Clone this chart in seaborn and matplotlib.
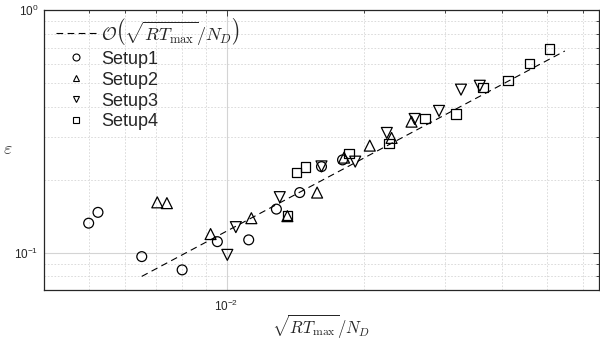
import pandas as pd
import matplotlib.pyplot as plt
import seaborn as sns
from matplotlib.lines import Line2D
from matplotlib.ticker import LogLocator, NullFormatter

sns.set_style("white")
plt.rcParams['font.family'] = ['Liberation Sans', 'DejaVu Sans']
plt.rcParams['mathtext.fontset'] = 'cm'

# values (x = sqrt(RT_max)/N_D, y = epsilon)
setup1_x = [0.00500, 0.00524, 0.00653, 0.00800, 0.00955, 0.01118, 0.01285, 0.01445, 0.01612, 0.01792]
setup1_y = [0.1325, 0.1468, 0.0965, 0.0851, 0.1112, 0.1131, 0.1514, 0.1771, 0.2265, 0.2414]

setup2_x = [0.00706, 0.00741, 0.00923, 0.01133, 0.01358, 0.01577, 0.01806, 0.02055, 0.02293, 0.02535]
setup2_y = [0.1614, 0.1602, 0.1195, 0.1389, 0.1416, 0.1771, 0.2467, 0.2764, 0.2973, 0.3469]

setup3_x = [0.01004, 0.01048, 0.01307, 0.01612, 0.01910, 0.02239, 0.02575, 0.02911, 0.03251, 0.03573]
setup3_y = [0.0981, 0.1276, 0.1696, 0.2270, 0.2375, 0.3117, 0.3559, 0.3841, 0.4699, 0.4876]

setup4_x = [0.01358, 0.01422, 0.01488, 0.01852, 0.02264, 0.02714, 0.03171, 0.03631, 0.04119, 0.04595, 0.05081]
setup4_y = [0.1423, 0.2140, 0.2259, 0.2572, 0.2828, 0.3587, 0.3733, 0.4806, 0.5136, 0.6036, 0.6910]

# reference slope line O(sqrt(RT_max)/N_D), end points
line_x = [0.00653, 0.0548]
line_y = [0.0800, 0.678]

setups = ['Setup1', 'Setup2', 'Setup3', 'Setup4']
marker_map = {'Setup1': 'o', 'Setup2': '^', 'Setup3': 'v', 'Setup4': 's'}
size_map = {'Setup1': 50, 'Setup2': 62, 'Setup3': 62, 'Setup4': 44}

df = pd.concat([
    pd.DataFrame({'x': setup1_x, 'y': setup1_y, 'setup': 'Setup1'}),
    pd.DataFrame({'x': setup2_x, 'y': setup2_y, 'setup': 'Setup2'}),
    pd.DataFrame({'x': setup3_x, 'y': setup3_y, 'setup': 'Setup3'}),
    pd.DataFrame({'x': setup4_x, 'y': setup4_y, 'setup': 'Setup4'}),
], ignore_index=True)

fig, ax = plt.subplots(figsize=(6, 3.4), dpi=100)
fig.subplots_adjust(left=0.0738, right=0.998, bottom=0.147, top=0.9706)

sns.lineplot(x=line_x, y=line_y, ax=ax, color='black', lw=0.8,
             linestyle=(0, (6, 4)), zorder=2)
sns.scatterplot(data=df, x='x', y='y', style='setup', markers=marker_map,
                size='setup', sizes=size_map, facecolor='none', edgecolor='black',
                linewidth=0.9, legend=False, ax=ax, zorder=3)

ax.set_xscale('log')
ax.set_yscale('log')
ax.set_xlim(4e-3, 0.065)
ax.set_ylim(0.0703, 1.0)

ax.xaxis.set_minor_locator(LogLocator(subs=range(2, 10)))
ax.yaxis.set_minor_locator(LogLocator(subs=range(2, 10)))
ax.xaxis.set_minor_formatter(NullFormatter())
ax.yaxis.set_minor_formatter(NullFormatter())

ax.set_axisbelow(True)
ax.grid(which='major', color='#d4d4d4', lw=0.8, ls='-')
ax.grid(which='minor', color='#d6d6d6', lw=0.6, ls=(0, (2, 2)))

ax.tick_params(which='both', direction='in', top=True, right=True,
               colors='#262626', labelsize=8.5, width=0.6)
ax.tick_params(which='major', length=4)
ax.tick_params(which='minor', length=2.5)
ax.tick_params(axis='x', pad=6)
ax.tick_params(axis='y', pad=4)
for s in ax.spines.values():
    s.set_color('#262626')
    s.set_linewidth(0.9)

ax.set_xlabel(r'$\sqrt{RT_{\max}}/N_D$', fontsize=12, color='#262626')
ax.xaxis.set_label_coords(0.5, -0.13, transform=ax.transAxes)
ax.xaxis.label.set_va('center')
ax.set_ylabel(r'$\varepsilon$', fontsize=13, color='#404040', rotation=0)
ax.yaxis.set_label_coords(-0.065, 0.47)

handles = [Line2D([], [], color='black', lw=0.8, ls=(0, (6, 4)))]
for name in setups:
    handles.append(Line2D([], [], ls='none', marker=marker_map[name], mfc='none',
                          mec='black', ms=5, mew=0.8))
labels = [r'$\mathcal{O}\left(\sqrt{RT_{\max}}/N_D\right)$'] + setups
ax.legend(handles, labels, loc='upper left', bbox_to_anchor=(0.022, 0.98),
          frameon=False, fontsize=13, borderpad=0, borderaxespad=0,
          handlelength=2.2, handletextpad=0.25, labelspacing=0.22)

plt.savefig('out.png', dpi=100)
